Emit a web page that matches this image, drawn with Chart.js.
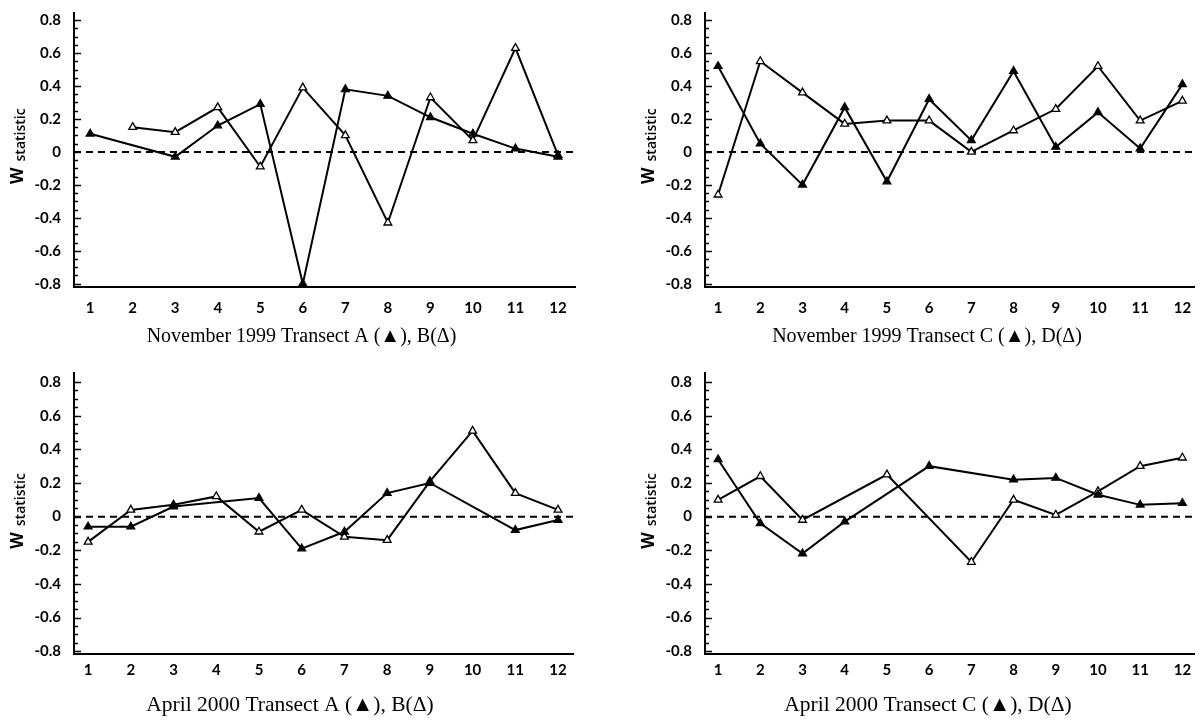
<!DOCTYPE html>
<html>
<head>
<meta charset="utf-8">
<title>W statistic by station</title>
<script src="https://cdn.jsdelivr.net/npm/chart.js@4"></script>
<style>
  body { margin: 0; background: #fff; }
  .wrap { position: relative; width: 1200px; height: 722px; overflow: hidden; }
  .wrap canvas { position: absolute; }
</style>
</head>
<body>
<div class="wrap">
  <canvas id="nov99AB" width="600" height="361" style="left:0;top:0"></canvas>
  <canvas id="nov99CD" width="600" height="361" style="left:600px;top:0"></canvas>
  <canvas id="apr00AB" width="600" height="361" style="left:0;top:361px"></canvas>
  <canvas id="apr00CD" width="600" height="361" style="left:600px;top:361px"></canvas>
</div>
<script>
// stations along each transect and the W axis labels
const stations = [1, 2, 3, 4, 5, 6, 7, 8, 9, 10, 11, 12];
const wTicks = [-0.8, -0.6, -0.4, -0.2, 0, 0.2, 0.4, 0.6, 0.8];

// November 1999
const novA = [0.11, null, -0.03, 0.16, 0.29, -0.80, 0.38, 0.34, 0.21, 0.11, 0.02, -0.03];
const novB = [null, 0.15, 0.12, 0.27, -0.09, 0.39, 0.10, -0.43, 0.33, 0.07, 0.63, -0.02];
const novC = [0.52, 0.05, -0.20, 0.27, -0.18, 0.32, 0.07, 0.49, 0.03, 0.24, 0.02, 0.41];
const novD = [-0.26, 0.55, 0.36, 0.17, 0.19, 0.19, 0.00, 0.13, 0.26, 0.52, 0.19, 0.31];

// April 2000
const aprA = [-0.06, -0.06, 0.06, null, 0.11, -0.19, -0.09, 0.14, 0.20, null, -0.08, -0.02];
const aprB = [-0.15, 0.04, 0.07, 0.12, -0.09, 0.04, -0.12, -0.14, 0.21, 0.51, 0.14, 0.04];
const aprC = [0.34, -0.04, -0.22, -0.03, null, 0.30, null, 0.22, 0.23, 0.13, 0.07, 0.08];
const aprD = [0.10, 0.24, -0.02, null, 0.25, null, -0.27, 0.10, 0.01, 0.15, 0.30, 0.35];

const captions = [
    'November 1999 Transect A (\u25B2), B(\u0394)',
    'November 1999 Transect C (\u25B2), D(\u0394)',
    'April 2000 Transect A (\u25B2), B(\u0394)',
    'April 2000 Transect C (\u25B2), D(\u0394)'
];

const tickFont = { family: 'Lato, "DejaVu Sans", sans-serif', size: 15, weight: 'bold' };

// zero reference line, inward tick marks and the rotated "W statistic" label
const axisDecor = {
    id: 'axisDecor',
    beforeDatasetsDraw(chart) {
        const { ctx, chartArea: a, scales: { y } } = chart;
        const y0 = y.getPixelForValue(0);
        ctx.save();
        ctx.strokeStyle = '#000';
        ctx.lineWidth = 2;
        ctx.setLineDash([7, 5]);
        ctx.beginPath();
        ctx.moveTo(a.left, y0);
        ctx.lineTo(a.right, y0);
        ctx.stroke();
        ctx.restore();
    },
    afterDraw(chart) {
        const { ctx, chartArea: a, scales: { y } } = chart;
        ctx.save();
        ctx.strokeStyle = '#000';
        ctx.lineWidth = 1.5;
        for (let k = -16; k <= 16; k++) {
            const py = Math.round(y.getPixelForValue(k * 0.05)) + 0.5;
            const len = k % 4 === 0 ? 7 : 4;
            ctx.beginPath();
            ctx.moveTo(a.left, py);
            ctx.lineTo(a.left + len, py);
            ctx.stroke();
        }
        // label sits beside the 0 tick, reading bottom to top
        const y0 = y.getPixelForValue(0);
        ctx.translate(a.left - 51, y0 + 32);
        ctx.rotate(-Math.PI / 2);
        ctx.fillStyle = '#000';
        ctx.textBaseline = 'alphabetic';
        ctx.font = 'bold 17px "Open Sans", Lato, sans-serif';
        ctx.fillText('W', 0, 0);
        const w = ctx.measureText('W').width;
        ctx.font = '600 14px "Open Sans", Lato, sans-serif';
        ctx.fillText('statistic', w + 6, 2);
        ctx.restore();
    }
};

function series(vals, fill) {
    return {
        data: stations.map((s, i) => ({ x: s, y: vals[i] })),
        borderColor: '#000',
        borderWidth: 2,
        pointStyle: 'triangle',
        pointRadius: 4.5,
        pointBackgroundColor: fill,
        pointBorderColor: '#000',
        pointBorderWidth: 1.3,
        spanGaps: true,
        tension: 0,
        clip: false
    };
}

// box: layout numbers for each panel (padding, axis sizes, ranges)
function panel(id, filled, open, caption, box) {
    new Chart(document.getElementById(id), {
        type: 'line',
        data: { datasets: [series(filled, '#000'), series(open, '#fff')] },
        options: {
            responsive: false,
            animation: false,
            events: [],
            layout: { padding: { left: box.padL, right: box.padR, top: box.top, bottom: box.padB } },
            scales: {
                x: {
                    type: 'linear',
                    min: box.xMin,
                    max: box.xMax,
                    afterBuildTicks: s => { s.ticks = stations.map(v => ({ value: v })); },
                    afterFit: s => { s.height = box.xH; s.paddingLeft = 0; s.paddingRight = 0; },
                    grid: { display: false, drawTicks: false },
                    border: { display: true, color: '#000', width: 2 },
                    ticks: { font: tickFont, color: '#000', padding: box.xPad, maxRotation: 0, autoSkip: false, callback: v => String(v) }
                },
                y: {
                    min: box.yMin,
                    max: box.yMax,
                    afterBuildTicks: s => { s.ticks = wTicks.map(v => ({ value: v })); },
                    afterFit: s => { s.width = box.yW; s.paddingTop = 0; s.paddingBottom = 0; },
                    grid: { display: false, drawTicks: false },
                    border: { display: true, color: '#000', width: 2 },
                    ticks: { font: tickFont, color: '#000', padding: 13, callback: v => v === 0 ? '0' : v.toFixed(1) }
                }
            },
            plugins: {
                legend: { display: false },
                tooltip: { enabled: false },
                title: {
                    display: true,
                    position: 'bottom',
                    text: caption,
                    color: '#000',
                    font: { family: '"Liberation Serif", "DejaVu Serif", serif', size: box.tSize, weight: 'normal', lineHeight: 1.2 },
                    padding: { top: box.tPad, bottom: 4 }
                }
            }
        },
        plugins: [axisDecor]
    });
}

panel('nov99AB', novA, novB, captions[0],
    { padL: 28, padR: 25, yW: 46, top: 13, padB: 8, xH: 34, xPad: 12, tSize: 20, tPad: 4, xMin: 0.62, xMax: 12.4, yMin: -0.82, yMax: 0.843 });
panel('nov99CD', novC, novD, captions[1],
    { padL: 57, padR: 3, yW: 48, top: 13, padB: 8, xH: 34, xPad: 12, tSize: 20, tPad: 4, xMin: 0.69, xMax: 12.28, yMin: -0.82, yMax: 0.843 });
panel('apr00AB', aprA, aprB, captions[2],
    { padL: 7, padR: 27, yW: 67, top: 12, padB: 0, xH: 28, xPad: 7, tSize: 21.5, tPad: 10, xMin: 0.67, xMax: 12.35, yMin: -0.818, yMax: 0.854 });
panel('apr00CD', aprC, aprD, captions[3],
    { padL: 59, padR: 3, yW: 46, top: 12, padB: 0, xH: 28, xPad: 7, tSize: 21.5, tPad: 10, xMin: 0.69, xMax: 12.28, yMin: -0.818, yMax: 0.854 });
</script>
</body>
</html>
